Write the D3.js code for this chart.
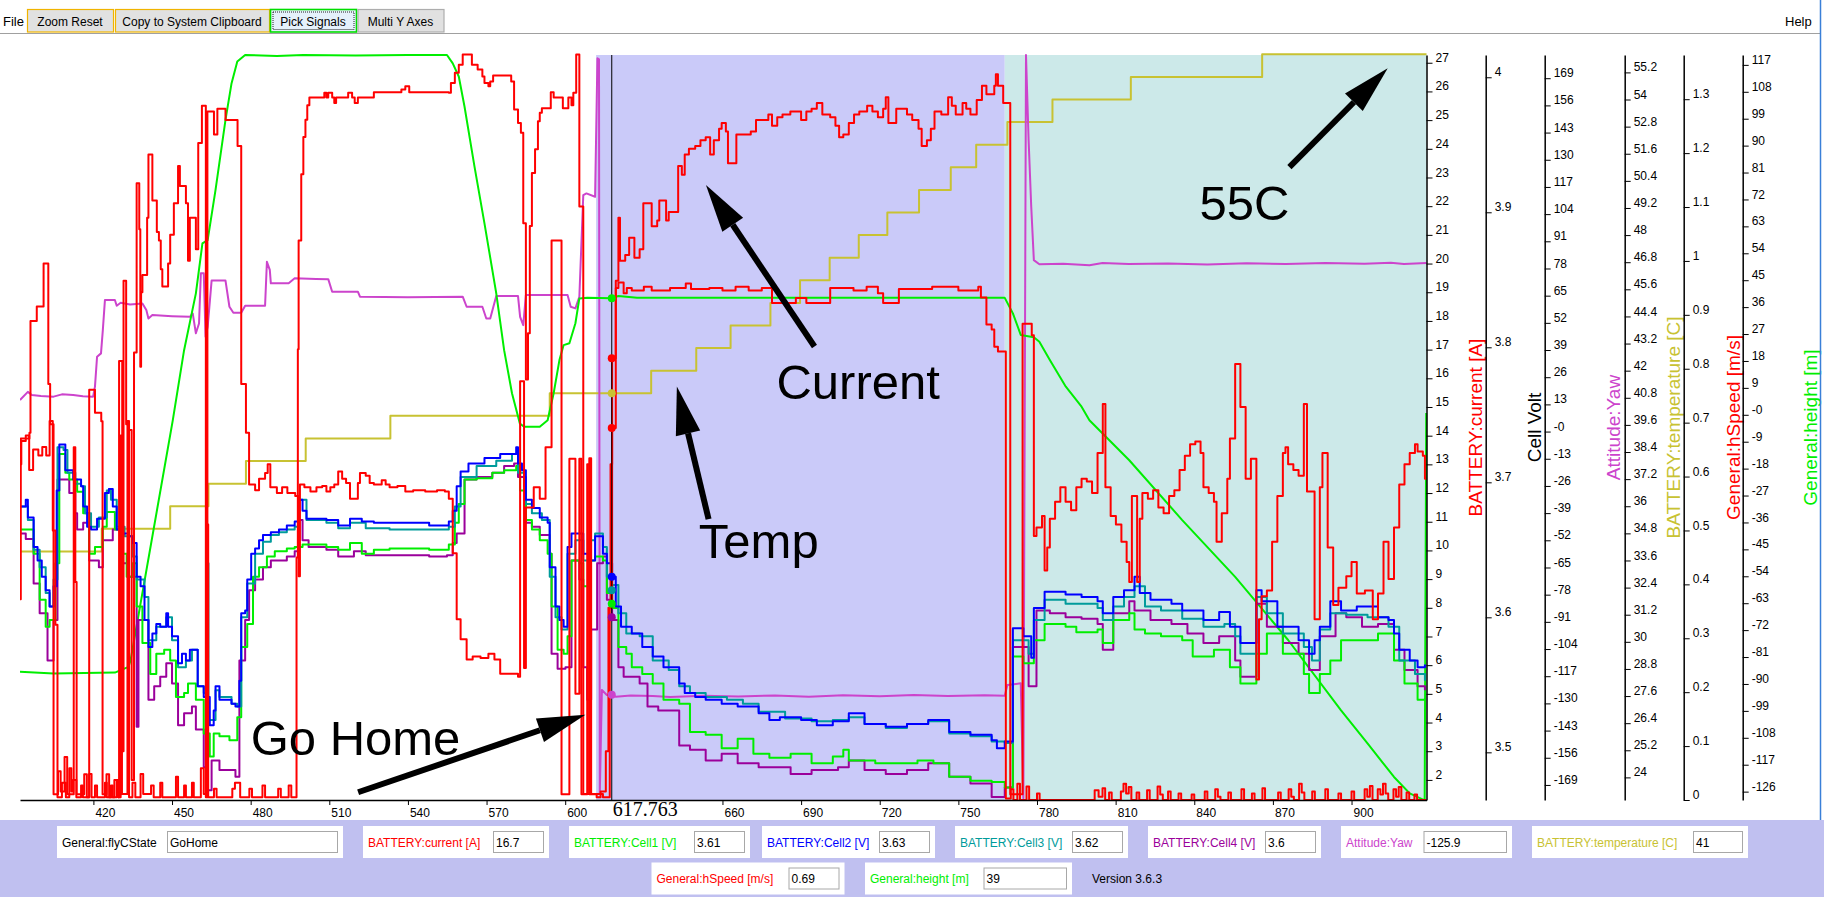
<!DOCTYPE html>
<html>
<head>
<meta charset="utf-8">
<script src="https://cdn.jsdelivr.net/npm/d3@7"></script>
<style>
  body { margin: 0; background: #fff; overflow: hidden; }
  svg { display: block; }
</style>
</head>
<body>
<svg id="chart" width="1824" height="897"></svg>
<script>
const xTicks = [420, 450, 480, 510, 540, 570, 600, 660, 690, 720, 750, 780, 810, 840, 870, 900];
const cursorT = 617.763;
const regionGoHome = [611.8, 767.7];
const regionLanding = [767.7, 928.6];

// BATTERY:current [A]
const current = [[392,8.3],[392.3,13.9],[395.6,14.1],[396.0,18.0],[398.4,18.5],[401.0,20.0],[402.8,15.8],[403.5,14.4],[404.8,1.5],[406.5,2.3],[407.5,1.6],[409.0,2.8],[410.0,1.5],[412.5,13.6],[413.1,8.9],[413.6,1.5],[416.5,2.2],[417.5,1.4],[418.4,15.6],[420.6,14.8],[423.0,14.5],[423.5,1.5],[425.0,2.2],[426.0,1.4],[428.0,2.0],[429.5,1.4],[429.8,16.6],[431.0,3.0],[431.5,19.4],[432.5,14.4],[433.5,14.2],[434.6,2.0],[435.5,16.9],[436.5,22.8],[437.5,21.2],[437.9,16.4],[438.2,19.0],[438.7,19.6],[440.5,21.6],[441.0,23.8],[442.5,22.2],[444.2,21.1],[445.0,20.8],[445.7,19.8],[446.3,19.2],[448.5,20.0],[449.3,21.0],[450.7,22.1],[452.3,23.4],[453.0,22.7],[455.3,22.1],[456.1,20.1],[456.8,21.6],[459.1,20.5],[460.0,24.2],[461.4,25.5],[462.9,1.4],[463.5,25.3],[466.0,24.5],[467.3,25.4],[470.4,25.0],[475.0,24.1],[476.4,15.8],[478.2,14.1],[479.4,12.3],[481.7,12.1],[483.2,12.5],[485.5,12.7],[486.5,13.0],[487.5,12.2],[490.0,12.0],[492.0,12.2],[494.0,12.0],[497.0,11.9],[498.3,9.1],[498.8,12.3],[500.5,12.2],[502.8,12.05],[505.1,12.2],[507.3,12.25],[508.9,12.05],[510.4,12.2],[511.9,12.3],[513.4,12.75],[514.9,12.5],[516.4,12.35],[517.9,11.8],[519.4,11.8],[520.9,12.35],[521.7,12.7],[523.9,12.6],[525.4,12.35],[527.0,12.3],[530.0,12.45],[531.5,12.3],[533.0,12.2],[536.0,12.25],[539.0,12.05],[542.0,12.1],[546.6,12.05],[551.1,12.1],[554.1,12.05],[555.6,11.8],[557.1,9.9],[558.6,7.6],[560.1,6.9],[562.4,6.2],[564.7,6.3],[567.7,6.25],[570.7,6.4],[573.0,6.2],[575.2,5.7],[582.0,5.6],[582.8,15.9],[584.3,5.9],[585.0,11.5],[588.0,12.2],[590.3,11.8],[592.5,13.6],[594.8,20.8],[598.6,1.5],[601.6,13.2],[603.9,5.0],[605.4,13.2],[606.2,1.5],[608.4,13.0],[609.2,1.5],[612.0,1.4],[613.5,1.6],[615.5,3.0],[616.5,8.0],[617.3,13.0],[617.9,16.7],[619.3,19.4],[620.3,21.6],[620.9,20.1],[622.9,20.3],[624.4,20.9],[626.4,20.2],[628.4,20.5],[629.8,22.1],[633.0,21.3],[635.1,21.5],[635.9,22.2],[638.5,21.5],[639.5,21.8],[643.1,23.4],[644.5,23.1],[645.6,23.8],[647.2,24.0],[649.6,24.1],[651.6,24.3],[653.6,24.4],[655.3,23.8],[656.7,24.3],[658.7,24.7],[659.7,24.9],[661.3,24.6],[662.1,23.5],[665.3,24.5],[670.8,24.6],[672.8,25.0],[677.5,25.2],[678.9,24.8],[680.9,25.1],[682.9,25.2],[685.9,25.3],[690.0,25.0],[692.0,25.3],[694.0,25.4],[696.0,25.6],[698.1,25.2],[701.1,25.1],[703.1,24.8],[704.5,24.4],[706.1,24.5],[708.2,24.9],[710.2,25.2],[712.2,25.3],[715.2,25.5],[717.2,25.3],[719.3,25.1],[721.3,25.4],[722.3,25.8],[723.3,24.9],[726.3,25.4],[730.4,25.2],[732.4,25.0],[734.8,24.7],[736.0,24.1],[738.0,24.3],[739.5,24.7],[740.9,25.3],[743.5,25.2],[746.1,25.8],[747.5,25.5],[749.0,25.2],[751.6,25.6],[753.0,25.4],[754.6,25.2],[757.0,25.7],[759.0,26.2],[760.7,25.9],[763.7,26.2],[764.3,26.6],[765.1,26.2],[767.1,25.6],[769.8,1.5],[774.5,17.9],[778.0,17.5],[778.8,10.5],[779.8,10.8],[781.9,11.2],[782.9,9.3],[783.9,10.1],[784.9,11.1],[786.9,11.7],[788.9,12.2],[790.9,11.7],[793.0,11.4],[795.0,12.2],[797.0,12.5],[799.0,12.4],[801.0,12.0],[803.1,13.4],[805.1,15.1],[806.1,12.2],[808.1,11.2],[810.1,10.9],[812.2,10.3],[814.2,9.6],[815.2,8.9],[816.2,11.9],[818.2,8.9],[819.2,11.1],[820.2,12.0],[822.3,11.8],[824.3,12.1],[826.3,11.5],[828.3,11.3],[830.4,11.9],[832.4,12.1],[834.4,12.8],[836.4,13.3],[838.4,13.7],[840.4,13.8],[842.4,13.4],[843.5,12.2],[845.5,12.0],[847.5,11.7],[848.5,10.3],[850.5,11.3],[852.6,12.5],[853.6,13.9],[855.6,16.5],[857.6,15.0],[859.6,12.5],[861.6,13.2],[863.7,5.5],[864.7,7.6],[865.7,8.4],[867.7,8.6],[869.7,10.3],[871.7,11.9],[873.8,13.4],[874.8,13.6],[875.8,13.0],[877.8,12.8],[879.8,12.6],[881.8,15.1],[883.0,12.05],[885.9,7.6],[887.9,12.2],[888.9,13.4],[890.9,10.1],[893.0,8.1],[895.0,8.7],[898.0,9.1],[900.0,9.6],[902.0,8.5],[905.1,8.6],[908.1,7.6],[910.1,8.5],[912.2,10.3],[914.1,9.0],[916.2,10.8],[918.2,12.3],[920.2,13.0],[922.2,13.4],[924.2,13.7],[925.2,13.45],[927.2,13.3],[928.0,12.5],[928.6,12.5]];

// General:hSpeed [m/s]
const hSpeed = [[392,0.623],[392.5,0.666],[394.2,0.676],[395.5,0.612],[397.0,0.650],[399.0,0.639],[400.5,0.655],[402.0,0.639],[403.3,0.703],[404.5,0.50],[405.5,0.325],[406.3,0.005],[408.0,0.032],[409.5,0.005],[410.8,0.059],[411.6,0.016],[412.3,0.037],[413.5,0.005],[415.3,0.027],[416.0,0.005],[418.4,0.048],[419.3,0.005],[420.6,0.027],[421.4,0.005],[424.4,0.032],[425.1,0.005],[426.7,0.027],[427.4,0.005],[428.9,0.037],[429.5,0.005],[430.4,0.676],[430.9,0.011],[433.0,0.703],[433.6,0.005],[434.9,0.032],[436.0,0.005],[438.0,0.048],[439.0,0.011],[442.0,0.027],[443.0,0.005],[445.5,0.032],[446.3,0.005],[451.5,0.043],[452.3,0.005],[454.6,0.027],[455.3,0.005],[457.6,0.032],[458.3,0.005],[461.0,0.059],[462.1,0.011],[463.0,0.511],[463.8,0.005],[466.0,0.021],[467.0,0.005],[473.0,0.021],[474.0,0.032],[476.0,0.005],[479.5,0.021],[480.5,0.005],[484.5,0.027],[485.5,0.005],[490.5,0.021],[491.5,0.005],[494.5,0.027],[495.5,0.005],[497.5,0.45],[498.0,0.836],[498.3,1.038],[499.3,1.161],[500.1,1.230],[500.9,1.262],[501.6,1.289],[502.4,1.303],[508.1,1.312],[508.9,1.303],[509.6,1.312],[511.1,1.303],[511.9,1.293],[512.6,1.303],[517.2,1.312],[518.7,1.303],[519.7,1.293],[520.9,1.303],[527.0,1.313],[537.5,1.318],[539.0,1.324],[540.5,1.313],[555.6,1.312],[556.4,1.330],[557.9,1.349],[559.4,1.364],[560.9,1.383],[564.4,1.364],[566.6,1.355],[568.4,1.342],[569.2,1.330],[570.7,1.324],[571.4,1.333],[572.5,1.344],[579.4,1.333],[580.5,1.281],[582.0,1.256],[583.1,1.238],[584.0,1.070],[585.0,0.780],[585.8,0.866],[586.5,1.065],[587.3,1.163],[588.5,1.207],[589.6,1.259],[590.3,1.275],[591.1,1.283],[594.5,1.313],[595.6,1.303],[599.1,1.283],[601.2,1.303],[602.4,1.289],[603.1,1.312],[604.2,1.383],[605.4,1.101],[606.9,0.011],[609.2,0.634],[609.9,0.011],[614.4,0.005],[617.0,0.357],[617.9,0.690],[619.3,0.950],[620.3,0.960],[622.3,0.940],[623.5,0.950],[625.4,0.945],[630.0,0.952],[633.0,0.945],[640.0,0.950],[646.0,0.958],[648.0,0.948],[655.0,0.950],[660.0,0.945],[665.0,0.952],[670.0,0.945],[675.0,0.950],[678.9,0.922],[688.0,0.931],[692.0,0.922],[701.1,0.950],[710.0,0.945],[715.0,0.952],[719.3,0.940],[721.3,0.922],[727.3,0.948],[740.0,0.952],[750.0,0.945],[757.6,0.952],[758.6,0.932],[760.7,0.882],[762.7,0.873],[763.7,0.841],[765.1,0.832],[768.1,0.003],[770.0,0.020],[771.0,0.0],[772.5,0.030],[773.5,0.0],[776.0,0.025],[777.0,0.0],[780.0,0.012],[781.0,0.0],[802.0,0.018],[803.5,0.006],[805.0,0.022],[806.0,0.0],[807.5,0.014],[808.5,0.0],[812.0,0.016],[813.0,0.030],[814.0,0.012],[815.0,0.024],[816.0,0.0],[818.0,0.014],[819.0,0.0],[822.0,0.018],[823.0,0.0],[826.0,0.025],[827.0,0.010],[828.0,0.0],[830.0,0.016],[831.0,0.0],[834.0,0.012],[835.0,0.0],[839.0,0.010],[840.0,0.0],[844.0,0.016],[845.0,0.0],[848.0,0.020],[849.0,0.006],[850.0,0.0],[853.0,0.014],[854.0,0.0],[858.0,0.020],[859.0,0.0],[862.0,0.012],[863.0,0.0],[866.0,0.022],[867.0,0.0],[872.0,0.014],[873.0,0.0],[876.0,0.020],[877.0,0.006],[878.0,0.0],[880.0,0.030],[881.0,0.014],[882.0,0.0],[885.0,0.016],[886.0,0.0],[890.0,0.020],[891.0,0.0],[895.0,0.012],[896.0,0.0],[900.0,0.016],[901.0,0.0],[905.0,0.020],[906.0,0.006],[907.0,0.026],[908.0,0.0],[910.0,0.020],[911.0,0.010],[912.0,0.030],[913.0,0.012],[914.0,0.0],[916.0,0.020],[917.0,0.006],[918.0,0.024],[919.0,0.0],[921.0,0.014],[922.0,0.0],[924.0,0.010],[925.0,0.0],[928.6,0.0]];

// BATTERY:Cell1..Cell4 [V]
const cell1 = [[392,3.665],[397.2,3.647],[399.5,3.613],[401.8,3.593],[403.3,3.598],[405.5,3.640],[407.0,3.721],[409.3,3.707],[410.8,3.702],[413.8,3.693],[416.1,3.677],[418.4,3.647],[420.6,3.652],[423.6,3.667],[425.1,3.678],[428.2,3.665],[431.2,3.647],[432.7,3.630],[434.9,3.640],[436.5,3.608],[438.7,3.581],[441.7,3.558],[444.0,3.573],[447.0,3.576],[449.3,3.568],[451.5,3.541],[454.6,3.544],[456.1,3.551],[459.1,3.539],[462.1,3.514],[464.4,3.497],[465.9,3.514],[468.1,3.512],[471.9,3.509],[474.9,3.526],[476.4,3.578],[478.7,3.595],[480.9,3.630],[483.2,3.637],[486.2,3.645],[489.2,3.649],[493.8,3.651],[496.8,3.652],[499.8,3.654],[508.9,3.652],[513.4,3.650],[517.9,3.655],[522.4,3.647],[527.0,3.650],[533.0,3.651],[548.1,3.650],[555.6,3.654],[557.9,3.670],[559.4,3.684],[561.6,3.702],[566.2,3.703],[572.2,3.707],[576.7,3.709],[581.3,3.712],[582.8,3.694],[585.0,3.672],[587.3,3.665],[590.3,3.657],[593.3,3.647],[594.8,3.608],[597.1,3.576],[599.4,3.573],[600.9,3.586],[602.4,3.642],[605.4,3.640],[606.9,3.623],[609.2,3.642],[611.4,3.645],[614.4,3.642],[615.9,3.618],[617.9,3.607],[620.3,3.578],[623.3,3.573],[625.4,3.563],[629.4,3.558],[633.4,3.551],[637.5,3.539],[643.5,3.536],[647.6,3.515],[653.6,3.513],[659.7,3.503],[665.8,3.510],[671.8,3.499],[677.9,3.496],[686.0,3.499],[694.0,3.492],[702.1,3.497],[706.1,3.502],[708.2,3.494],[718.3,3.492],[734.4,3.494],[740.5,3.492],[746.5,3.482],[754.6,3.479],[762.7,3.478],[767.7,3.474],[770.8,3.571],[774.8,3.566],[778.8,3.583],[782.9,3.595],[790.9,3.593],[795.0,3.589],[803.1,3.591],[805.1,3.581],[809.1,3.598],[815.2,3.603],[817.2,3.591],[821.2,3.588],[827.3,3.586],[835.4,3.583],[839.4,3.571],[847.5,3.576],[853.6,3.563],[857.6,3.551],[863.7,3.573],[867.7,3.588],[873.8,3.573],[881.8,3.558],[883.8,3.544],[887.9,3.558],[891.9,3.568],[896.0,3.583],[904.0,3.583],[910.1,3.588],[916.2,3.568],[920.2,3.551],[925.2,3.539],[928.0,3.540]];
const cell2 = [[392,3.682],[394.2,3.687],[395.0,3.674],[397.2,3.652],[398.7,3.642],[400.3,3.630],[401.8,3.620],[403.3,3.608],[404.8,3.623],[406.0,3.694],[407.0,3.728],[409.3,3.709],[412.3,3.702],[415.3,3.697],[416.1,3.682],[417.6,3.667],[419.1,3.665],[421.4,3.673],[424.4,3.692],[425.9,3.695],[427.4,3.682],[428.9,3.665],[430.4,3.662],[433.4,3.660],[434.9,3.655],[436.5,3.630],[438.0,3.623],[439.5,3.598],[441.0,3.578],[442.5,3.588],[444.0,3.595],[445.5,3.593],[447.8,3.603],[448.5,3.593],[450.0,3.586],[452.3,3.566],[453.8,3.573],[455.3,3.568],[456.8,3.576],[459.8,3.549],[462.1,3.541],[464.4,3.520],[465.9,3.531],[466.6,3.549],[468.1,3.539],[472.7,3.536],[474.2,3.534],[475.7,3.553],[476.4,3.603],[477.9,3.605],[478.7,3.628],[480.2,3.647],[481.7,3.651],[483.2,3.657],[484.7,3.661],[487.7,3.663],[490.8,3.665],[493.8,3.668],[496.8,3.671],[498.3,3.687],[499.8,3.679],[501.3,3.673],[508.9,3.672],[513.4,3.668],[517.9,3.673],[522.4,3.671],[527.0,3.670],[548.1,3.668],[555.6,3.671],[557.1,3.679],[558.6,3.697],[560.1,3.708],[563.1,3.714],[569.2,3.718],[575.2,3.721],[581.3,3.726],[582.0,3.714],[583.5,3.709],[585.0,3.687],[587.3,3.681],[590.3,3.674],[593.3,3.670],[594.1,3.637],[596.3,3.608],[597.8,3.598],[599.4,3.593],[600.9,3.652],[602.4,3.662],[606.9,3.647],[609.2,3.642],[611.4,3.660],[614.4,3.647],[615.9,3.640],[617.9,3.630],[619.3,3.608],[621.3,3.593],[625.4,3.588],[629.4,3.578],[633.4,3.571],[637.5,3.563],[643.5,3.551],[645.6,3.544],[649.6,3.541],[653.6,3.539],[659.7,3.536],[665.8,3.534],[673.8,3.529],[677.9,3.524],[681.9,3.526],[690.0,3.524],[696.0,3.520],[702.1,3.523],[708.2,3.529],[714.2,3.521],[722.3,3.519],[730.4,3.521],[738.5,3.524],[746.5,3.515],[754.6,3.513],[762.7,3.509],[764.7,3.503],[767.7,3.508],[770.8,3.592],[774.8,3.586],[777.8,3.570],[778.8,3.607],[782.9,3.619],[790.9,3.617],[797.0,3.615],[803.1,3.612],[805.1,3.603],[809.1,3.615],[813.2,3.620],[817.2,3.630],[819.2,3.618],[823.3,3.613],[831.3,3.610],[835.4,3.605],[843.5,3.598],[849.5,3.604],[853.6,3.593],[857.6,3.581],[863.7,3.620],[865.7,3.612],[871.7,3.593],[879.8,3.583],[883.8,3.573],[885.9,3.583],[887.9,3.593],[891.9,3.612],[896.0,3.605],[902.0,3.608],[910.1,3.600],[914.1,3.598],[916.2,3.588],[918.2,3.576],[922.2,3.568],[925.2,3.563],[928.0,3.565]];
const cell3 = [[392,3.682],[395.0,3.672],[397.2,3.650],[399.5,3.637],[401.8,3.618],[403.3,3.608],[404.8,3.628],[406.3,3.726],[408.6,3.724],[410.1,3.707],[413.1,3.699],[415.3,3.697],[416.8,3.677],[419.1,3.667],[422.1,3.674],[425.1,3.694],[426.7,3.687],[428.9,3.667],[431.9,3.660],[434.9,3.645],[436.5,3.628],[439.5,3.615],[441.0,3.583],[444.0,3.593],[447.8,3.600],[450.0,3.583],[452.3,3.563],[455.3,3.568],[457.6,3.576],[459.8,3.549],[462.1,3.544],[463.2,3.640],[463.9,3.524],[466.6,3.546],[468.1,3.541],[472.7,3.536],[474.9,3.534],[476.4,3.600],[478.7,3.625],[481.7,3.647],[484.7,3.656],[487.7,3.661],[490.8,3.663],[493.8,3.665],[496.8,3.667],[498.3,3.687],[501.3,3.672],[508.9,3.670],[513.4,3.666],[517.9,3.670],[523.9,3.666],[533.0,3.665],[555.6,3.667],[557.9,3.682],[560.1,3.704],[566.2,3.712],[573.7,3.716],[579.7,3.721],[582.0,3.707],[584.3,3.697],[585.0,3.684],[587.3,3.677],[591.1,3.672],[594.1,3.630],[596.3,3.600],[598.6,3.591],[600.9,3.647],[603.9,3.657],[606.9,3.642],[609.2,3.657],[611.4,3.662],[614.4,3.652],[615.9,3.630],[617.9,3.624],[620.3,3.603],[623.3,3.588],[628.4,3.586],[633.4,3.568],[639.5,3.561],[643.5,3.549],[647.6,3.544],[653.6,3.541],[661.7,3.539],[667.8,3.536],[673.8,3.530],[683.9,3.525],[694.0,3.523],[702.1,3.524],[708.2,3.526],[714.2,3.521],[722.3,3.518],[730.4,3.521],[738.5,3.523],[746.5,3.514],[754.6,3.512],[762.7,3.508],[767.7,3.507],[770.8,3.583],[776.8,3.573],[778.8,3.598],[782.9,3.613],[790.9,3.610],[803.1,3.607],[805.1,3.598],[809.1,3.608],[813.2,3.615],[817.2,3.623],[821.2,3.608],[827.3,3.605],[835.4,3.599],[843.5,3.593],[851.5,3.595],[855.6,3.586],[857.6,3.573],[863.7,3.615],[867.7,3.603],[873.8,3.588],[881.8,3.578],[884.9,3.568],[887.9,3.591],[891.9,3.603],[898.0,3.602],[906.1,3.600],[914.1,3.593],[918.2,3.568],[924.2,3.558],[928.0,3.553]];
const cell4 = [[392,3.662],[394.2,3.658],[397.2,3.625],[399.5,3.603],[402.5,3.568],[404.8,3.598],[406.3,3.702],[410.8,3.692],[413.1,3.677],[413.8,3.665],[416.1,3.670],[418.4,3.642],[422.1,3.637],[423.6,3.657],[427.4,3.665],[430.4,3.640],[433.4,3.630],[436.5,3.519],[437.2,3.598],[441.0,3.539],[443.2,3.549],[445.5,3.556],[447.8,3.566],[450.0,3.551],[452.3,3.520],[454.6,3.529],[457.6,3.534],[459.1,3.517],[462.1,3.489],[463.2,3.615],[463.6,3.472],[465.1,3.494],[468.1,3.487],[474.2,3.482],[475.7,3.568],[477.9,3.598],[479.4,3.620],[481.7,3.628],[484.7,3.637],[487.7,3.642],[493.8,3.645],[496.8,3.649],[498.3,3.672],[499.8,3.657],[502.1,3.652],[508.9,3.650],[513.4,3.645],[519.4,3.649],[523.9,3.646],[548.1,3.645],[554.9,3.646],[557.1,3.655],[558.6,3.662],[561.6,3.702],[566.2,3.704],[572.2,3.707],[576.7,3.712],[580.5,3.714],[582.0,3.704],[585.0,3.670],[587.3,3.667],[590.3,3.661],[594.1,3.647],[594.8,3.573],[597.1,3.562],[600.1,3.563],[602.4,3.642],[605.4,3.628],[606.9,3.563],[608.4,3.539],[609.9,3.591],[612.2,3.640],[614.4,3.645],[615.9,3.613],[617.9,3.598],[620.3,3.563],[622.3,3.556],[628.4,3.551],[631.4,3.534],[635.5,3.531],[643.5,3.505],[647.6,3.502],[653.6,3.494],[659.7,3.499],[665.8,3.492],[673.8,3.489],[686.0,3.484],[694.0,3.487],[704.1,3.489],[708.2,3.494],[714.2,3.487],[722.3,3.484],[730.4,3.487],[738.5,3.492],[746.5,3.482],[754.6,3.477],[762.7,3.467],[767.7,3.474],[770.8,3.578],[776.8,3.549],[779.8,3.605],[784.9,3.603],[790.9,3.600],[797.0,3.599],[803.1,3.595],[805.1,3.576],[809.1,3.603],[815.2,3.612],[817.2,3.605],[823.3,3.598],[831.3,3.595],[837.4,3.588],[843.5,3.581],[849.5,3.586],[855.6,3.568],[857.6,3.556],[863.7,3.610],[867.7,3.593],[873.8,3.581],[879.8,3.573],[883.8,3.561],[887.9,3.586],[893.9,3.603],[898.0,3.600],[904.0,3.593],[910.1,3.595],[916.2,3.576],[920.2,3.561],[925.2,3.549],[928.0,3.546]];

// Attitude:Yaw
const yaw = [[392,15.1],[395.0,19.0],[396.5,17.5],[400,17.0],[404.8,16.7],[408,17.8],[412.3,17.5],[416,16.9],[419.9,16.7],[420.6,21.5],[421.4,35.8],[422.9,37.4],[423.6,48.5],[424.4,62.9],[428.2,62.9],[428.9,60.2],[430.4,61.6],[434,60.8],[438.7,61.3],[440.2,58.1],[441.0,54.1],[442.5,55.7],[450,55.2],[456.8,54.9],[457.9,56.5],[459.1,47.0],[460.3,51.7],[461.0,75.7],[462.1,75.7],[462.8,45.4],[463.6,50.1],[465.1,72.2],[470.4,72.2],[471.9,59.7],[473.4,56.8],[476.4,56.8],[477.9,60.2],[485.5,60.2],[486.2,81.2],[487.3,77.3],[487.7,70.9],[494.5,70.9],[496.8,73.3],[505,73.0],[509.6,72.9],[511.1,66.9],[520.9,66.9],[521.7,64.5],[540,64.2],[560.9,64.5],[562.4,59.7],[568.4,59.7],[569.9,54.1],[571.4,54.1],[573.7,64.8],[582.0,64.8],[582.8,54.9],[584.0,50.9],[585.0,65.3],[600.9,65.3],[602.1,59.7],[603.9,58.9],[605.4,64.5],[606.9,113.1],[608.1,113.9],[611.4,112.3],[612.3,178.5],[612.9,178.0],[613.2,-173],[614.0,-123.6],[615.9,-126],[617.9,-125.5],[619.3,-126.8],[625,-126.2],[633.4,-126.5],[640,-126.9],[653,-126.3],[666,-126.7],[680,-126.2],[693,-126.8],[706,-126.1],[720,-126.6],[733,-126.0],[746,-126.5],[760,-126.1],[767.7,-126.3],[768.7,-121.2],[773.8,-120.4],[774.8,-175.4],[775.8,180.1],[776.8,139.4],[777.8,107.6],[778.8,82.0],[780.9,80.0],[790,80.3],[800,79.6],[805,80.6],[815,80.1],[830,80.4],[845,79.9],[860,80.5],[875,80.2],[890,80.6],[905,80.3],[915,80.8],[920,80.2],[928.6,80.6]];

// BATTERY:temperature [C]
const temperature = [[392,34],[423.2,35],[449.3,36],[463.9,37],[478.2,38],[501.0,39],[533.3,40],[594.1,41],[632.8,42],[650.0,43],[663.1,44],[678.3,45],[689.6,46],[700.9,47],[712.0,48],[722.9,49],[735.0,50],[747.1,51],[756.8,52],[768.7,53],[785.9,54],[815.8,55],[865.9,56],[928.6,56]];

// General:height [m]
const height = [[392,-85.9],[404.8,-86.5],[428.2,-86.2],[433.4,-84.3],[434.2,-82.0],[450.3,-1.8],[454.6,21.6],[459.1,40.6],[461.6,57.3],[463.6,58.4],[466.6,75.2],[470.4,98.6],[472.7,110.8],[474.9,118.1],[477.9,120.3],[490,120.0],[500,120.3],[520,120.1],[540,120.3],[554.9,120.3],[557.1,117.5],[559.4,113.1],[561.6,103.0],[565.4,83.0],[569.2,64.0],[573.7,40.6],[576.7,21.6],[579.7,7.2],[582.7,-2.9],[584.3,-4.0],[590.3,-4.0],[593.3,-1.8],[595.6,7.2],[597.8,18.3],[599.4,23.3],[601.6,23.9],[603.9,30.6],[605.4,38.9],[608.4,39.1],[617.9,39.0],[620.3,39.7],[627.4,39.1],[767.7,39.1],[770.8,33.9],[773.8,26.7],[778.8,25.9],[780.9,24.4],[784.9,18.3],[791.0,9.4],[797.0,2.7],[800.0,-1.8],[815.2,-15.2],[835.4,-35.2],[855.6,-54.2],[875.8,-75.3],[896.0,-98.8],[906.1,-109.9],[916.2,-121.1],[922.2,-126.6],[927.9,-128.9],[928.5,0.6]];

// right-hand axes: tick values and their printed labels
const curTicks = d3.range(2, 28);
const cellTicks = [3.5, 3.6, 3.7, 3.8, 3.9, 4.0];
const cellLabels = ["3.5", "3.6", "3.7", "3.8", "3.9", "4"];
const yawTicks = [169,156,143,130,117,104,91,78,65,52,39,26,13,0,-13,-26,-39,-52,-65,-78,-91,-104,-117,-130,-143,-156,-169];
const yawLabels = ["169","156","143","130","117","104","91","78","65","52","39","26","13","-0","-13","-26","-39","-52","-65","-78","-91","-104","-117","-130","-143","-156","-169"];
const tempTicks = [24,25.2,26.4,27.6,28.8,30,31.2,32.4,33.6,34.8,36,37.2,38.4,39.6,40.8,42,43.2,44.4,45.6,46.8,48,49.2,50.4,51.6,52.8,54,55.2];
const hsTicks = [0,0.1,0.2,0.3,0.4,0.5,0.6,0.7,0.8,0.9,1,1.1,1.2,1.3];
const htTicks = [117,108,99,90,81,72,63,54,45,36,27,18,9,0,-9,-18,-27,-36,-45,-54,-63,-72,-81,-90,-99,-108,-117,-126];
const htLabels = ["117","108","99","90","81","72","63","54","45","36","27","18","9","-0","-9","-18","-27","-36","-45","-54","-63","-72","-81","-90","-99","-108","-117","-126"];

// value panel at the bottom
const panelLabels = ["General:flyCState", "BATTERY:current [A]", "BATTERY:Cell1 [V]", "BATTERY:Cell2 [V]", "BATTERY:Cell3 [V]", "BATTERY:Cell4 [V]", "Attitude:Yaw", "BATTERY:temperature [C]", "General:hSpeed [m/s]", "General:height [m]"];
const panelValues = ["GoHome", "16.7", "3.61", "3.63", "3.62", "3.6", "-125.9", "41", "0.69", "39"];
const versionText = "Version 3.6.3";
const buttons = ["Zoom Reset", "Copy to System Clipboard", "Pick Signals", "Multi Y Axes"];

// annotations, anchored in (time, current-axis) units
const notes = [
  { text: "Current", at: [680.6, 15.27], tail: [695.1, 17.11], tip: [653.7, 22.74] },
  { text: "Temp", at: [651.0, 9.73], tail: [654.7, 11.09], tip: [642.6, 15.71] },
  { text: "55C", at: [842.0, 21.52], tail: [876.3, 23.36], tip: [913.8, 26.81] },
  { text: "Go Home", at: [480.0, 2.88], tail: [521.0, 1.57], tip: [607.7, 4.27] }
];

// ---- layout ----
const FONT = "Liberation Sans, Arial, sans-serif";
const plot = { left: 20, right: 1426.5, top: 55, bottom: 800 };
const colors = {
  current: "#ff0000", hSpeed: "#ff0000", cell1: "#00ee00", cell2: "#0000ff",
  cell3: "#009b9b", cell4: "#9b009b", yaw: "#cc44cc", temp: "#c8c232", height: "#00ee00"
};

const svg = d3.select("#chart");

const x = d3.scaleLinear().domain([392, 928.6]).range([plot.left, plot.right]);
const yCur = d3.scaleLinear().domain([1.30, 27.27]).range([plot.bottom, plot.top]);
const yCell = d3.scaleLinear().domain([3.4647, 4.0165]).range([plot.bottom, plot.top]);
const yYaw = d3.scaleLinear().domain([-176.2, 180.1]).range([plot.bottom, plot.top]);
const yTemp = d3.scaleLinear().domain([23.0, 55.97]).range([plot.bottom, plot.top]);
const yHs = d3.scaleLinear().domain([0, 1.382]).range([plot.bottom, plot.top]);
const yHt = d3.scaleLinear().domain([-128.8, 120.3]).range([plot.bottom, plot.top]);

// ---- top menu bar ----
svg.append("text").attr("x", 3).attr("y", 26).attr("font-family", FONT).attr("font-size", 13).text("File");
svg.append("text").attr("x", 1785).attr("y", 26).attr("font-family", FONT).attr("font-size", 13).text("Help");
svg.append("line").attr("x1", 0).attr("x2", 1820).attr("y1", 33.5).attr("y2", 33.5).attr("stroke", "#a0a0a0");

const btnBox = [[27, 86, "#f0b400"], [115, 154, "#f0b400"], [270, 86, "#00dd00"], [357.5, 86, "#adadad"]];
buttons.forEach((b, i) => {
  const [bx, bw, stroke] = btnBox[i];
  svg.append("rect").attr("x", bx + 0.5).attr("y", 9.5).attr("width", bw).attr("height", 22.5)
    .attr("fill", i === 2 ? "#e5f1fb" : "#e1e1e1").attr("stroke", stroke).attr("stroke-width", i === 2 ? 1.6 : 1.2);
  if (i === 2) {
    svg.append("rect").attr("x", bx + 3).attr("y", 12).attr("width", bw - 5).attr("height", 17.5)
      .attr("fill", "none").attr("stroke", "#222").attr("stroke-dasharray", "1,1");
  }
  svg.append("text").attr("x", bx + bw / 2).attr("y", 25.5).attr("text-anchor", "middle")
    .attr("font-family", FONT).attr("font-size", 12).text(b);
});

// ---- plot background regions ----
svg.append("rect").attr("x", x(regionGoHome[0])).attr("y", plot.top)
  .attr("width", x(regionGoHome[1]) - x(regionGoHome[0])).attr("height", plot.bottom - plot.top)
  .attr("fill", "#cacaf9");
svg.append("rect").attr("x", x(regionLanding[0])).attr("y", plot.top)
  .attr("width", x(regionLanding[1]) - x(regionLanding[0])).attr("height", plot.bottom - plot.top)
  .attr("fill", "#cce9e9");

svg.append("clipPath").attr("id", "clip").append("rect")
  .attr("x", plot.left).attr("y", plot.top - 2).attr("width", plot.right - plot.left + 1).attr("height", plot.bottom - plot.top + 3);

const lines = svg.append("g").attr("clip-path", "url(#clip)");

function drawSeries(data, yScale, color, curve) {
  const line = d3.line().x(d => x(d[0])).y(d => yScale(d[1])).curve(curve);
  lines.append("path").datum(data).attr("d", line)
    .attr("fill", "none").attr("stroke", color).attr("stroke-width", 2).attr("stroke-linejoin", "round");
}

drawSeries(temperature, yTemp, colors.temp, d3.curveStepAfter);
drawSeries(yaw, yYaw, colors.yaw, d3.curveLinear);
drawSeries(height, yHt, colors.height, d3.curveLinear);
drawSeries(cell4, yCell, colors.cell4, d3.curveStepAfter);
drawSeries(cell1, yCell, colors.cell1, d3.curveStepAfter);
drawSeries(cell3, yCell, colors.cell3, d3.curveStepAfter);
drawSeries(cell2, yCell, colors.cell2, d3.curveStepAfter);
drawSeries(hSpeed, yHs, colors.hSpeed, d3.curveStepAfter);
drawSeries(current, yCur, colors.current, d3.curveStepAfter);

// ---- cursor ----
const cx = x(cursorT);
svg.append("line").attr("x1", cx).attr("x2", cx).attr("y1", plot.top).attr("y2", plot.bottom)
  .attr("stroke", "#000").attr("stroke-width", 1);

const cursorDots = [
  [+panelValues[1], yCur, colors.current], [+panelValues[8], yHs, colors.hSpeed],
  [+panelValues[7], yTemp, colors.temp], [+panelValues[9], yHt, colors.height],
  [+panelValues[3], yCell, colors.cell2], [+panelValues[4], yCell, colors.cell3],
  [+panelValues[2], yCell, colors.cell1], [+panelValues[5], yCell, colors.cell4],
  [+panelValues[6], yYaw, colors.yaw]
];
svg.append("g").selectAll("circle").data(cursorDots).join("circle")
  .attr("cx", cx).attr("cy", d => d[1](d[0])).attr("r", 4).attr("fill", d => d[2]);

// ---- x axis ----
const xAxis = svg.append("g").attr("transform", `translate(0, ${plot.bottom})`)
  .call(d3.axisBottom(x).tickValues(xTicks).tickSize(5).tickSizeOuter(0).tickFormat(d3.format("d")));
xAxis.select(".domain").attr("stroke-width", 1.5);
xAxis.selectAll("text").attr("text-anchor", "start").attr("x", 1.5)
  .attr("font-family", FONT).attr("font-size", 12);
svg.append("text").attr("x", cx + 1).attr("y", 815.5)
  .attr("font-family", "Liberation Serif, Times New Roman, serif").attr("font-size", 20)
  .text(d3.format(".3f")(cursorT));

// ---- right y axes ----
const rightAxes = [
  { scale: yCur, ticks: curTicks, labels: curTicks.map(String), x: 1426.5, title: "BATTERY:current [A]", color: colors.current, tx: 1481.5 },
  { scale: yCell, ticks: cellTicks, labels: cellLabels, x: 1485.7, title: "Cell Volt", color: "#000", tx: 1540.5 },
  { scale: yYaw, ticks: yawTicks, labels: yawLabels, x: 1544.7, title: "Attitude:Yaw", color: colors.yaw, tx: 1620 },
  { scale: yTemp, ticks: tempTicks, labels: tempTicks.map(String), x: 1624.7, title: "BATTERY:temperature [C]", color: colors.temp, tx: 1680 },
  { scale: yHs, ticks: hsTicks, labels: hsTicks.map(String), x: 1683.7, title: "General:hSpeed [m/s]", color: colors.hSpeed, tx: 1740 },
  { scale: yHt, ticks: htTicks, labels: htLabels, x: 1742.7, title: "General:height [m]", color: colors.height, tx: 1817 }
];

rightAxes.forEach(a => {
  const g = svg.append("g").attr("transform", `translate(${a.x}, 0)`)
    .call(d3.axisRight(a.scale).tickValues(a.ticks).tickSize(6).tickSizeOuter(0)
      .tickFormat((d, i) => a.labels[i]));
  g.select(".domain").attr("stroke-width", 1.5);
  g.selectAll("text").attr("x", 9).attr("dy", "-0.12em")
    .attr("font-family", FONT).attr("font-size", 12);

  svg.append("text")
    .attr("transform", `translate(${a.tx}, ${(plot.top + plot.bottom) / 2}) rotate(-90)`)
    .attr("text-anchor", "middle").attr("font-family", FONT).attr("font-size", 19)
    .attr("fill", a.color).text(a.title);
});

// ---- annotations ----
const ann = svg.append("g");
notes.forEach(n => {
  const tip = [x(n.tip[0]), yCur(n.tip[1])];
  const tail = [x(n.tail[0]), yCur(n.tail[1])];
  const dx = tail[0] - tip[0], dy = tail[1] - tip[1];
  const len = Math.hypot(dx, dy);
  const ux = dx / len, uy = dy / len;
  const headL = 48, headW = 12.5;
  const base = [tip[0] + ux * headL, tip[1] + uy * headL];
  ann.append("line").attr("x1", tail[0]).attr("y1", tail[1]).attr("x2", base[0]).attr("y2", base[1])
    .attr("stroke", "#000").attr("stroke-width", 6);
  ann.append("polygon")
    .attr("points", [tip, [base[0] - uy * headW, base[1] + ux * headW], [base[0] + uy * headW, base[1] - ux * headW]]
      .map(p => p.join(",")).join(" "))
    .attr("fill", "#000");
  ann.append("text").attr("x", x(n.at[0])).attr("y", yCur(n.at[1]))
    .attr("font-family", FONT).attr("font-size", 49).text(n.text);
});

// ---- bottom value panel ----
svg.append("rect").attr("x", 0).attr("y", 820).attr("width", 1824).attr("height", 77).attr("fill", "#c0c0f0");

const panelColors = ["#000", colors.current, colors.cell1, colors.cell2, colors.cell3, colors.cell4, colors.yaw, colors.temp, colors.hSpeed, colors.height];
// [boxX, boxY, boxW, inputW]
const panelBoxes = [
  [57, 826, 286, 170], [363, 826, 186, 50], [569, 826, 181, 50], [762, 826, 173, 50],
  [955, 826, 173, 50], [1148, 826, 173, 50], [1341, 826, 171, 82.5], [1532, 826, 216, 49],
  [651.5, 862.5, 193, 50], [865, 862.5, 207, 82.5]
];

const boxes = svg.append("g").selectAll("g").data(panelLabels).join("g")
  .attr("transform", (d, i) => `translate(${panelBoxes[i][0]}, ${panelBoxes[i][1]})`);
boxes.append("rect").attr("width", (d, i) => panelBoxes[i][2]).attr("height", 32).attr("fill", "#fff");
boxes.append("text").attr("x", 5).attr("y", 20.5)
  .attr("font-family", FONT).attr("font-size", 12).attr("fill", (d, i) => panelColors[i]).text(d => d);
boxes.append("rect")
  .attr("x", (d, i) => panelBoxes[i][2] - 5.5 - panelBoxes[i][3]).attr("y", 5.5)
  .attr("width", (d, i) => panelBoxes[i][3]).attr("height", 21)
  .attr("fill", "#fff").attr("stroke", "#a8a8a8");
boxes.append("text")
  .attr("x", (d, i) => panelBoxes[i][2] - 3 - panelBoxes[i][3]).attr("y", 20.5)
  .attr("font-family", FONT).attr("font-size", 12).text((d, i) => panelValues[i]);

svg.append("text").attr("x", 1092).attr("y", 883).attr("font-family", FONT).attr("font-size", 12).text(versionText);

// right window border
svg.append("line").attr("x1", 1820.5).attr("x2", 1820.5).attr("y1", 0).attr("y2", 820)
  .attr("stroke", "#3a7fd8").attr("stroke-width", 1.5);
</script>
</body>
</html>
